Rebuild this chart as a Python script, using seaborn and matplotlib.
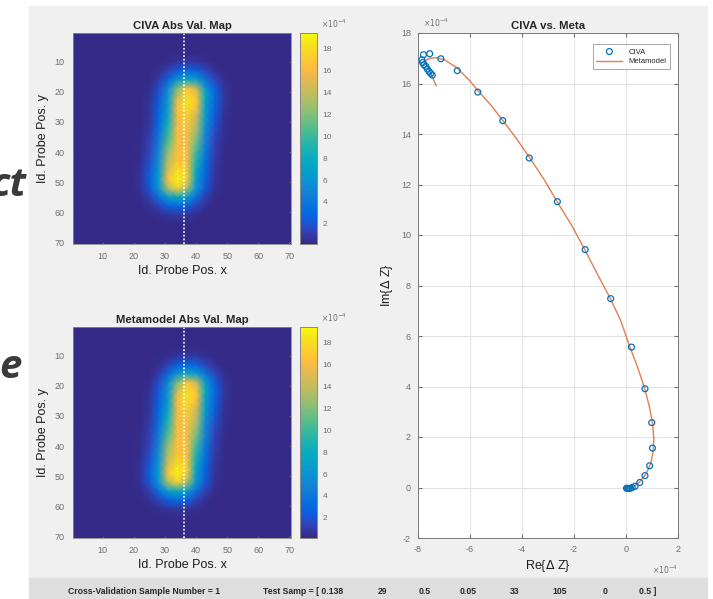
import numpy as np
import matplotlib
matplotlib.use("Agg")
import matplotlib.pyplot as plt
import seaborn as sns
from matplotlib.colors import LinearSegmentedColormap, Normalize
from matplotlib.patches import Rectangle

# ---- data -------------------------------------------------------------
# |dZ| maps (x 1e-4), sampled every 3 probe positions: 1, 4, ..., 70
probe_pos = list(range(1, 71, 3))
bg = 0.2
civa_map = [
    [bg] * 24,
    [bg] * 24,
    [bg] * 24,
    [bg] * 7 + [0.2, 0.2, 0.2, 0.35, 0.62, 0.8, 0.68, 0.4, 0.2, 0.2] + [bg] * 7,
    [bg] * 7 + [0.2, 0.2, 0.4, 1.15, 2.3, 3.0, 2.6, 1.5, 0.6, 0.2] + [bg] * 7,
    [bg] * 7 + [0.2, 0.2, 1.0, 3.0, 6.1, 7.8, 6.6, 3.9, 1.5, 0.4] + [bg] * 7,
    [bg] * 7 + [0.2, 0.4, 1.75, 5.2, 11.7, 16.8, 14.4, 6.6, 2.6, 0.68] + [bg] * 7,
    [bg] * 7 + [0.2, 0.55, 2.15, 6.3, 14.7, 18.1, 16.9, 7.8, 3.0, 0.8] + [bg] * 7,
    [bg] * 7 + [0.2, 0.62, 2.5, 6.5, 16.1, 18.4, 16.5, 6.8, 2.6, 0.68] + [bg] * 7,
    [bg] * 7 + [0.2, 0.75, 2.9, 7.5, 15.9, 17.2, 14.6, 6.6, 2.3, 0.55] + [bg] * 7,
    [bg] * 7 + [0.2, 0.9, 3.3, 8.6, 15.9, 16.7, 13.7, 5.9, 1.9, 0.45] + [bg] * 7,
    [bg] * 7 + [0.25, 1.05, 3.8, 9.7, 16.0, 16.2, 12.7, 5.2, 1.6, 0.4] + [bg] * 7,
    [bg] * 7 + [0.3, 1.3, 4.4, 10.9, 16.1, 16.1, 11.4, 4.6, 1.35, 0.35] + [bg] * 7,
    [bg] * 7 + [0.35, 1.5, 5.0, 12.3, 16.3, 16.3, 10.1, 4.0, 1.15, 0.25] + [bg] * 7,
    [bg] * 7 + [0.4, 1.8, 5.6, 13.6, 16.8, 16.3, 9.0, 3.5, 0.95, 0.25] + [bg] * 7,
    [bg] * 7 + [0.55, 2.15, 6.3, 14.75, 18.2, 17.1, 7.8, 3.0, 0.8, 0.2] + [bg] * 7,
    [bg] * 7 + [0.62, 2.5, 6.5, 16.5, 19.0, 17.0, 6.8, 2.6, 0.68, 0.2] + [bg] * 7,
    [bg] * 7 + [0.55, 2.15, 6.1, 13.15, 17.4, 13.15, 6.1, 2.15, 0.55, 0.2] + [bg] * 7,
    [bg] * 7 + [0.25, 1.2, 3.5, 6.6, 7.9, 6.6, 3.5, 1.2, 0.25, 0.2] + [bg] * 7,
    [bg] * 7 + [0.2, 0.5, 1.3, 2.5, 3.0, 2.5, 1.3, 0.5, 0.2, 0.2] + [bg] * 7,
    [bg] * 7 + [0.2, 0.2, 0.38, 0.65, 0.8, 0.65, 0.38, 0.2, 0.2, 0.2] + [bg] * 7,
    [bg] * 24,
    [bg] * 24,
    [bg] * 24,
]
# metamodel map looks identical to CIVA at this scale
meta_map = [row[:] for row in civa_map]
scan_line_x = 36

# impedance trajectory (x 1e-4)
civa_re = [-7.79, -7.55, -7.85, -7.82, -7.77, -7.70, -7.64, -7.57, -7.51, -7.45,
           -7.12, -6.49, -5.70, -4.74, -3.72, -2.64, -1.57, -0.59, 0.21, 0.73,
           0.99, 1.02, 0.91, 0.73, 0.53, 0.35, 0.24, 0.17, 0.12, 0.08, 0.05, 0.02]
civa_im = [17.14, 17.18, 16.94, 16.83, 16.74, 16.68, 16.57, 16.47, 16.40, 16.33,
           16.98, 16.51, 15.66, 14.53, 13.05, 11.32, 9.42, 7.48, 5.56, 3.91,
           2.57, 1.56, 0.86, 0.47, 0.20, 0.05, 0.00, -0.03, -0.04, -0.04, -0.04, -0.03]
meta_re = [-7.30, -7.42, -7.55, -7.68, -7.70, -7.55, -7.30, -7.00, -6.50, -6.00,
           -5.70, -5.20, -4.75, -4.20, -3.70, -3.15, -2.65, -2.10, -1.60, -1.10,
           -0.60, -0.20, 0.12, 0.45, 0.72, 0.90, 1.02, 1.07, 1.04, 0.95, 0.78,
           0.55, 0.35, 0.15, 0.03]
meta_im = [15.90, 16.20, 16.50, 16.78, 16.92, 17.00, 17.02, 16.95, 16.62, 16.10,
           15.72, 15.15, 14.55, 13.80, 13.05, 12.20, 11.32, 10.40, 9.45, 8.45,
           7.48, 6.60, 5.65, 4.75, 3.92, 3.20, 2.55, 1.90, 1.40, 0.95, 0.55,
           0.25, 0.07, -0.02, -0.04]

status_labels = ["29", "0.5", "0.05", "33", "105", "0", "0.5 ]"]

# ---- style ------------------------------------------------------------
sns.set_style("white")
plt.rcParams["font.family"] = ["Liberation Sans", "DejaVu Sans"]
plt.rcParams["axes.unicode_minus"] = False

parula = LinearSegmentedColormap.from_list("parula", [
    (0 / 63, (0.2081, 0.1663, 0.5292)),
    (4 / 63, (0.1959, 0.2645, 0.7279)),
    (7 / 63, (0.0591, 0.3598, 0.8683)),
    (10 / 63, (0.0165, 0.4266, 0.8786)),
    (15 / 63, (0.0779, 0.5040, 0.8384)),
    (20 / 63, (0.0343, 0.5966, 0.8199)),
    (25 / 63, (0.0267, 0.6642, 0.7607)),
    (30 / 63, (0.1453, 0.7098, 0.6646)),
    (35 / 63, (0.3482, 0.7424, 0.5473)),
    (40 / 63, (0.5709, 0.7485, 0.4494)),
    (45 / 63, (0.7525, 0.7384, 0.3768)),
    (50 / 63, (0.9139, 0.7258, 0.3063)),
    (53 / 63, (0.9938, 0.7455, 0.2403)),
    (56 / 63, (0.9880, 0.8066, 0.1794)),
    (60 / 63, (0.9589, 0.8949, 0.1132)),
    (63 / 63, (0.9763, 0.9831, 0.0538)),
])
vmin, vmax = 0.15, 19.45
tick_gray = "#6e6e6e"
edge_gray = "#8a8a8a"
label_col = "#1e1e1e"
W, H = 713, 599


def fig_rect(x0, y0, x1, y1):
    # pixel box (top-left origin) -> figure fraction [l, b, w, h]
    return [x0 / W, (H - y1) / H, (x1 - x0) / W, (y1 - y0) / H]


fig = plt.figure(figsize=(W / 100, H / 100), dpi=100, facecolor="white")
fig.patches.append(Rectangle((29 / W, 21 / H), 678 / W, 572 / H,
                             transform=fig.transFigure, color="#f0f0f0", zorder=-2))
fig.patches.append(Rectangle((29 / W, 0), 678 / W, 21 / H,
                             transform=fig.transFigure, color="#dedede", zorder=-1))
# slide text peeking out from behind the figure window
fig.text(26 / W, 1 - 185 / H, "ct", ha="right", va="center", fontsize=29,
         fontweight="bold", fontstyle="italic", color="#3a3a3a",
         family=["Open Sans", "DejaVu Sans"])
fig.text(22 / W, 1 - 367 / H, "e", ha="right", va="center", fontsize=29,
         fontweight="bold", fontstyle="italic", color="#3a3a3a",
         family=["Open Sans", "DejaVu Sans"])


def draw_map(data, title, top):
    ax = fig.add_axes(fig_rect(73, top, 291, top + 211))
    cax = fig.add_axes(fig_rect(300, top, 317, top + 211))
    norm = Normalize(vmin, vmax)
    sns.heatmap(np.array(data), ax=ax, cbar_ax=cax, cmap=parula, vmin=vmin, vmax=vmax,
                xticklabels=False, yticklabels=False, shading="gouraud")
    ax.set_facecolor(parula(norm(bg)))
    step = probe_pos[1] - probe_pos[0]
    to_idx = lambda p: (p - probe_pos[0]) / step
    ax.set_xlim(to_idx(0.5), to_idx(70.5))
    ax.set_ylim(to_idx(70.5), to_idx(0.5))
    ticks = [10, 20, 30, 40, 50, 60, 70]
    ax.set_xticks([to_idx(t) for t in ticks])
    ax.set_xticklabels(ticks)
    ax.set_yticks([to_idx(t) for t in ticks])
    ax.set_yticklabels(ticks)
    ax.tick_params(direction="in", length=2, labelsize=6.5, colors=tick_gray,
                   bottom=True, left=True, top=True, right=True, pad=6)
    ax.axvline(to_idx(scan_line_x), color="white", lw=1.1, ls=(0, (1.2, 1.2)))
    for s in ax.spines.values():
        s.set_visible(True)
        s.set_color(edge_gray)
        s.set_linewidth(0.6)
    ax.set_title(title, fontsize=8.2, fontweight="bold", color="#262626", pad=3)
    ax.set_xlabel("Id. Probe Pos. x", fontsize=9, color=label_col, labelpad=3)
    ax.set_ylabel("Id. Probe Pos. y", fontsize=9, color=label_col, labelpad=4)
    cax.set_yticks([2, 4, 6, 8, 10, 12, 14, 16, 18])
    cax.tick_params(direction="in", length=2, labelsize=6, colors=tick_gray,
                    left=True, right=True, pad=4)
    for s in cax.spines.values():
        s.set_visible(True)
        s.set_color(edge_gray)
        s.set_linewidth(0.6)
    cax.text(1.25, 1.015, r"$\times10^{-4}$", transform=cax.transAxes, fontsize=5.5,
             color=tick_gray, ha="left", va="bottom")


draw_map(civa_map, "CIVA Abs Val. Map", 33)
draw_map(meta_map, "Metamodel Abs Val. Map", 327)

# ---- CIVA vs Meta -----------------------------------------------------
ax = fig.add_axes(fig_rect(418, 33, 678, 538))
ax.set_facecolor("white")
blue = (0.0, 0.447, 0.741)
orange = (0.85, 0.325, 0.098)
sns.lineplot(x=meta_re, y=meta_im, ax=ax, sort=False, estimator=None, color=orange,
             lw=1.0, alpha=0.75, label="Metamodel", zorder=2)
sns.scatterplot(x=civa_re, y=civa_im, ax=ax, marker="o", s=18, facecolor="none",
                edgecolor=blue, linewidth=0.9, label="CIVA", zorder=3)
ax.set_xlim(-8, 2)
ax.set_ylim(-2, 18)
ax.set_xticks(range(-8, 3, 2))
ax.set_yticks(range(-2, 19, 2))
ax.grid(True, color="#e3e3e3", lw=0.7)
ax.set_axisbelow(True)
ax.tick_params(direction="in", length=3, labelsize=6.5, colors=tick_gray,
               bottom=True, left=True, top=True, right=True, pad=5)
for s in ax.spines.values():
    s.set_visible(True)
    s.set_color("#7a7a7a")
    s.set_linewidth(0.7)
ax.set_title("CIVA vs. Meta", fontsize=8.2, fontweight="bold", color="#262626", pad=3)
ax.set_xlabel("Re{$\\Delta$ Z}", fontsize=9, color=label_col, labelpad=3)
ax.set_ylabel("Im{$\\Delta$ Z}", fontsize=9, color=label_col, labelpad=4)
ax.text(0.02, 1.008, r"$\times10^{-4}$", transform=ax.transAxes, fontsize=5.5,
        color=tick_gray, ha="left", va="bottom")
ax.text(1.0, -0.05, r"$\times10^{-4}$", transform=ax.transAxes, fontsize=5.5,
        color=tick_gray, ha="right", va="top")
handles, labels = ax.get_legend_handles_labels()
order = [labels.index("CIVA"), labels.index("Metamodel")]
leg = ax.legend([handles[i] for i in order], [labels[i] for i in order],
                loc="upper right", fontsize=5.5, frameon=True, fancybox=False,
                borderpad=0.5, handlelength=3.4, labelspacing=0.3,
                bbox_to_anchor=(0.985, 0.985))
leg.get_frame().set_edgecolor("#808080")
leg.get_frame().set_linewidth(0.6)

# ---- status bar -------------------------------------------------------
sy = 1 - 592 / H
fig.text(68 / W, sy, "Cross-Validation Sample Number = 1", fontsize=6.2,
         fontweight="bold", color="#262626", va="center", ha="left")
fig.text(263 / W, sy, "Test Samp = [ 0.138", fontsize=6.2,
         fontweight="bold", color="#262626", va="center", ha="left")
for xpix, lab in zip([382, 425, 468, 515, 560, 605, 648], status_labels):
    fig.text(xpix / W, sy, lab, fontsize=6.2, fontweight="bold", color="#262626",
             va="center", ha="center")

fig.savefig("out.png", dpi=100, facecolor=fig.get_facecolor())
